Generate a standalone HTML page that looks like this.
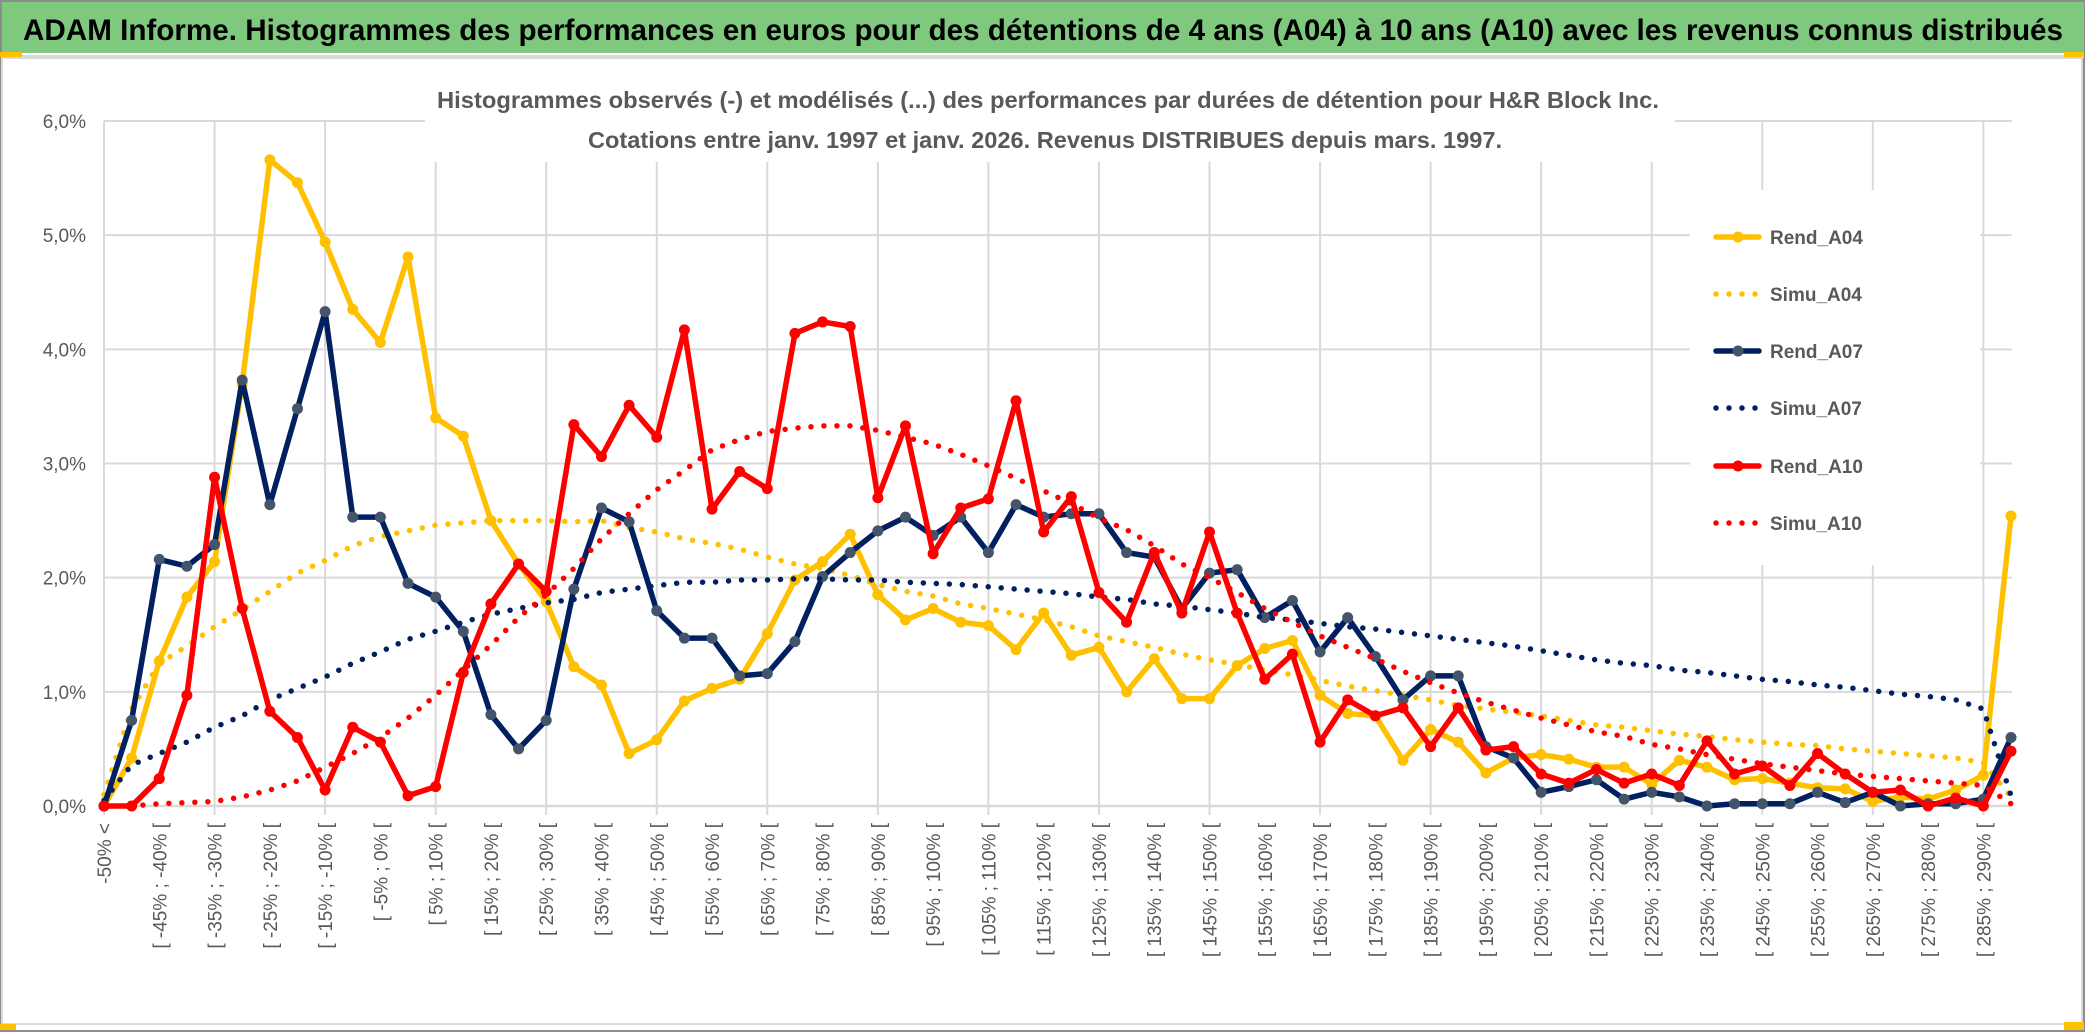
<!DOCTYPE html>
<html><head><meta charset="utf-8">
<style>
html,body{margin:0;padding:0;background:#fff;}
svg{display:block;font-family:"Liberation Sans Narrow","Liberation Sans",sans-serif;}
</style></head>
<body>
<svg id="chart" width="2086" height="1033" viewBox="0 0 2086 1033" xmlns="http://www.w3.org/2000/svg">
  <rect x="0" y="0" width="2086" height="1033" fill="#ffffff"/>
  <rect x="1" y="1" width="2083" height="1030" fill="none" stroke="#8c8c8c" stroke-width="2"/>
  <rect x="2" y="2" width="2082" height="51" fill="#7fc97f"/>
  <text x="1043" y="40" text-anchor="middle" font-size="30" font-weight="bold" fill="#000" textLength="2040" lengthAdjust="spacingAndGlyphs">ADAM Informe. Histogrammes des performances en euros pour des détentions de 4 ans (A04) à 10 ans (A10) avec les revenus connus distribués</text>
  <rect x="2" y="55" width="2082" height="3" fill="#d9d9d9"/>
  <rect x="0" y="52" width="22" height="5" fill="#ffc000"/>
  <rect x="2064" y="52" width="20" height="5" fill="#ffc000"/>
  <rect x="2" y="58" width="2080" height="966" fill="none" stroke="#d9d9d9" stroke-width="2"/>
  <rect x="0" y="1024" width="16" height="6" fill="#ffc000"/>
  <rect x="2064" y="1022" width="20" height="8" fill="#ffc000"/>
  <g id="grid"></g>
  <g id="yaxis"></g>
  <g id="xaxis"></g>
  <rect x="425" y="76" width="1250" height="86" fill="#ffffff"/>
  <text x="1048" y="108" text-anchor="middle" font-size="23" font-weight="bold" fill="#595959" textLength="1222" lengthAdjust="spacingAndGlyphs">Histogrammes observés (-) et modélisés (...) des performances par durées de détention pour H&amp;R Block Inc.</text>
  <text x="1045" y="148" text-anchor="middle" font-size="23" font-weight="bold" fill="#595959" textLength="914" lengthAdjust="spacingAndGlyphs">Cotations entre janv. 1997 et janv. 2026. Revenus DISTRIBUES depuis mars. 1997.</text>
  <rect x="1690" y="190" width="290" height="375" fill="#ffffff"/>
  <g id="series"></g>
  <g id="legend"></g>
</svg>
<script>
const categories = ["-50% <","[ -50% ; -45% [","[ -45% ; -40% [","[ -40% ; -35% [","[ -35% ; -30% [","[ -30% ; -25% [","[ -25% ; -20% [","[ -20% ; -15% [","[ -15% ; -10% [","[ -10% ; -5% [","[ -5% ; 0% [","[ 0% ; 5% [","[ 5% ; 10% [","[ 10% ; 15% [","[ 15% ; 20% [","[ 20% ; 25% [","[ 25% ; 30% [","[ 30% ; 35% [","[ 35% ; 40% [","[ 40% ; 45% [","[ 45% ; 50% [","[ 50% ; 55% [","[ 55% ; 60% [","[ 60% ; 65% [","[ 65% ; 70% [","[ 70% ; 75% [","[ 75% ; 80% [","[ 80% ; 85% [","[ 85% ; 90% [","[ 90% ; 95% [","[ 95% ; 100% [","[ 100% ; 105% [","[ 105% ; 110% [","[ 110% ; 115% [","[ 115% ; 120% [","[ 120% ; 125% [","[ 125% ; 130% [","[ 130% ; 135% [","[ 135% ; 140% [","[ 140% ; 145% [","[ 145% ; 150% [","[ 150% ; 155% [","[ 155% ; 160% [","[ 160% ; 165% [","[ 165% ; 170% [","[ 170% ; 175% [","[ 175% ; 180% [","[ 180% ; 185% [","[ 185% ; 190% [","[ 190% ; 195% [","[ 195% ; 200% [","[ 200% ; 205% [","[ 205% ; 210% [","[ 210% ; 215% [","[ 215% ; 220% [","[ 220% ; 225% [","[ 225% ; 230% [","[ 230% ; 235% [","[ 235% ; 240% [","[ 240% ; 245% [","[ 245% ; 250% [","[ 250% ; 255% [","[ 255% ; 260% [","[ 260% ; 265% [","[ 265% ; 270% [","[ 270% ; 275% [","[ 275% ; 280% [","[ 280% ; 285% [","[ 285% ; 290% [","[ 290% ; 300% ["];
const yTicks = [0,1,2,3,4,5,6];
const yTickLabels = ["0,0%","1,0%","2,0%","3,0%","4,0%","5,0%","6,0%"];
const rendA04 = [0,0.42,1.27,1.83,2.14,3.7,5.66,5.46,4.94,4.35,4.06,4.81,3.40,3.24,2.50,2.12,1.79,1.22,1.06,0.46,0.58,0.92,1.03,1.11,1.51,1.98,2.14,2.38,1.85,1.63,1.73,1.61,1.58,1.37,1.69,1.32,1.39,1.00,1.29,0.94,0.94,1.23,1.38,1.45,0.97,0.81,0.79,0.40,0.67,0.56,0.29,0.42,0.45,0.41,0.34,0.34,0.19,0.40,0.34,0.23,0.24,0.20,0.16,0.15,0.04,0.08,0.06,0.14,0.27,2.54];
const simuA04 = [0.1,0.85,1.25,1.40,1.57,1.72,1.88,2.04,2.15,2.28,2.36,2.41,2.46,2.48,2.50,2.50,2.50,2.49,2.50,2.44,2.40,2.34,2.30,2.25,2.18,2.12,2.08,2.02,1.94,1.88,1.84,1.77,1.73,1.68,1.63,1.57,1.49,1.44,1.39,1.33,1.28,1.24,1.19,1.15,1.10,1.05,1.01,0.97,0.93,0.88,0.85,0.82,0.79,0.75,0.71,0.69,0.66,0.63,0.61,0.58,0.56,0.54,0.53,0.50,0.48,0.46,0.44,0.42,0.38,0.08];
const rendA07 = [0,0.75,2.16,2.10,2.29,3.73,2.64,3.48,4.33,2.53,2.53,1.95,1.83,1.53,0.80,0.50,0.75,1.90,2.61,2.49,1.71,1.47,1.47,1.14,1.16,1.44,2.01,2.22,2.41,2.53,2.37,2.53,2.22,2.64,2.53,2.56,2.56,2.22,2.18,1.73,2.04,2.07,1.65,1.80,1.35,1.65,1.31,0.93,1.14,1.14,0.52,0.42,0.12,0.17,0.23,0.06,0.12,0.08,0,0.02,0.02,0.02,0.12,0.03,0.12,0,0.02,0.02,0.06,0.60];
const simuA07 = [0.05,0.36,0.46,0.56,0.69,0.79,0.93,1.03,1.13,1.25,1.35,1.46,1.53,1.61,1.68,1.73,1.78,1.81,1.87,1.90,1.93,1.96,1.96,1.98,1.98,1.99,1.99,1.98,1.98,1.96,1.95,1.94,1.92,1.90,1.88,1.86,1.83,1.81,1.77,1.75,1.72,1.69,1.65,1.63,1.60,1.57,1.55,1.52,1.49,1.46,1.43,1.40,1.36,1.32,1.28,1.25,1.23,1.19,1.17,1.14,1.11,1.09,1.06,1.04,1.01,0.98,0.96,0.93,0.85,0.09];
const rendA10 = [0,0,0.24,0.97,2.88,1.73,0.83,0.60,0.14,0.69,0.56,0.09,0.17,1.17,1.77,2.12,1.88,3.34,3.06,3.51,3.23,4.17,2.60,2.93,2.78,4.14,4.24,4.20,2.70,3.33,2.21,2.61,2.69,3.55,2.40,2.71,1.87,1.61,2.22,1.69,2.40,1.69,1.11,1.33,0.56,0.93,0.79,0.86,0.52,0.86,0.49,0.52,0.28,0.20,0.32,0.20,0.28,0.18,0.57,0.28,0.35,0.18,0.46,0.28,0.12,0.14,0,0.07,0,0.48];
const simuA10 = [0,0,0.02,0.03,0.04,0.08,0.14,0.22,0.34,0.46,0.60,0.77,0.97,1.19,1.41,1.65,1.85,2.08,2.34,2.56,2.77,2.94,3.12,3.21,3.28,3.31,3.33,3.33,3.29,3.23,3.17,3.08,2.98,2.87,2.76,2.65,2.52,2.42,2.28,2.12,2.00,1.87,1.73,1.61,1.49,1.39,1.29,1.18,1.08,0.99,0.91,0.84,0.77,0.71,0.65,0.61,0.54,0.50,0.45,0.41,0.37,0.34,0.31,0.28,0.26,0.24,0.22,0.20,0.18,0.02];
const seriesNames = ["Rend_A04","Simu_A04","Rend_A07","Simu_A07","Rend_A10","Simu_A10"];

const NS = "http://www.w3.org/2000/svg";
const X0 = 104, X1 = 2011, Y0 = 806, Y6 = 121;
function xScale(i){ return X0 + i * (X1 - X0) / (categories.length - 1); }
function yScale(v){ return Y0 - v * (Y0 - Y6) / 6; }
function mk(tag, parent){ const e = document.createElementNS(NS, tag); parent.appendChild(e); return e; }

const grid = document.getElementById('grid');
yTicks.forEach(function(t){
  const l = mk('line', grid);
  
  
  l.setAttribute('x1', X0); l.setAttribute('x2', 2012);
  l.setAttribute('y1', yScale(t)); l.setAttribute('y2', yScale(t));
  l.setAttribute('stroke', '#d9d9d9'); l.setAttribute('stroke-width', t === 0 ? 2.5 : 2);
});
categories.forEach(function(c, i){
  if (i % 4 !== 0) return;
  const l = mk('line', grid);
  
  
  l.setAttribute('x1', xScale(i)); l.setAttribute('x2', xScale(i));
  l.setAttribute('y1', Y6); l.setAttribute('y2', Y0 + 9);
  l.setAttribute('stroke', '#d9d9d9'); l.setAttribute('stroke-width', 2);
});

const yaxis = document.getElementById('yaxis');
yTicks.forEach(function(t, k){
  const tx = mk('text', yaxis);
  
  
  tx.setAttribute('x', 86); tx.setAttribute('y', yScale(t) + 7);
  tx.setAttribute('text-anchor', 'end'); tx.setAttribute('font-size', 19); tx.setAttribute('fill', '#595959');
  tx.textContent = yTickLabels[k];
});

const xaxis = document.getElementById('xaxis');
categories.forEach(function(c, i){
  if (i % 2 !== 0) return;
  const tx = mk('text', xaxis);
  
  
  const x = xScale(i) + 7, y = 823;
  tx.setAttribute('x', x); tx.setAttribute('y', y);
  tx.setAttribute('transform', 'rotate(-90 ' + x + ' ' + y + ')');
  tx.setAttribute('text-anchor', 'end');
  tx.setAttribute('font-family', '"Liberation Sans", sans-serif');
  tx.setAttribute('font-size', 19); tx.setAttribute('fill', '#595959');
  tx.textContent = c;
});

const layer = document.getElementById('series');
function drawLine(vals, color, dotted, name, markerFill){
  const g = mk('g', layer);
  
  
  const p = mk('polyline', g);
  
  
  p.setAttribute('points', vals.map(function(v, i){ return xScale(i) + ',' + yScale(v); }).join(' '));
  p.setAttribute('fill', 'none'); p.setAttribute('stroke', color);
  p.setAttribute('stroke-linejoin', 'round');
  if (dotted) {
    p.setAttribute('stroke-width', 5.5); p.setAttribute('stroke-linecap', 'round'); p.setAttribute('stroke-dasharray', '0 13');
  } else {
    p.setAttribute('stroke-width', 5.5);
    vals.forEach(function(v, i){
      const c = mk('circle', g);
      
      
      c.setAttribute('cx', xScale(i)); c.setAttribute('cy', yScale(v)); c.setAttribute('r', 5.5);
      c.setAttribute('fill', markerFill);
    });
  }
}
drawLine(rendA04, '#ffc000', false, 'rend-a04', '#ffc000');
drawLine(simuA04, '#ffc000', true, 'simu-a04');
drawLine(rendA07, '#002060', false, 'rend-a07', '#44546a');
drawLine(simuA07, '#002060', true, 'simu-a07');
drawLine(rendA10, '#ff0000', false, 'rend-a10', '#ff0000');
drawLine(simuA10, '#ff0000', true, 'simu-a10');

const legend = document.getElementById('legend');
const legColors = ['#ffc000','#ffc000','#002060','#002060','#ff0000','#ff0000'];
const legMarker = ['#ffc000',null,'#44546a',null,'#ff0000',null];
const legY = [244,301,358,415,473,530];
seriesNames.forEach(function(n, k){
  const g = mk('g', legend);
  
  
  const y = legY[k];
  const l = mk('line', g);
  
  
  l.setAttribute('x1', 1716); l.setAttribute('x2', 1759); l.setAttribute('y1', y - 7); l.setAttribute('y2', y - 7);
  l.setAttribute('stroke', legColors[k]); l.setAttribute('stroke-width', 5.5); l.setAttribute('stroke-linecap', 'round');
  if (legMarker[k]) {
    const c = mk('circle', g);
    
    
    c.setAttribute('cx', 1738); c.setAttribute('cy', y - 7); c.setAttribute('r', 5.5); c.setAttribute('fill', legMarker[k]);
  } else {
    l.setAttribute('stroke-dasharray', '0 13');
  }
  const t = mk('text', g);
  
  
  t.setAttribute('x', 1770); t.setAttribute('y', y);
  t.setAttribute('font-size', 19); t.setAttribute('font-weight', 'bold'); t.setAttribute('fill', '#595959');
  t.textContent = n;
});
</script>
</body></html>
